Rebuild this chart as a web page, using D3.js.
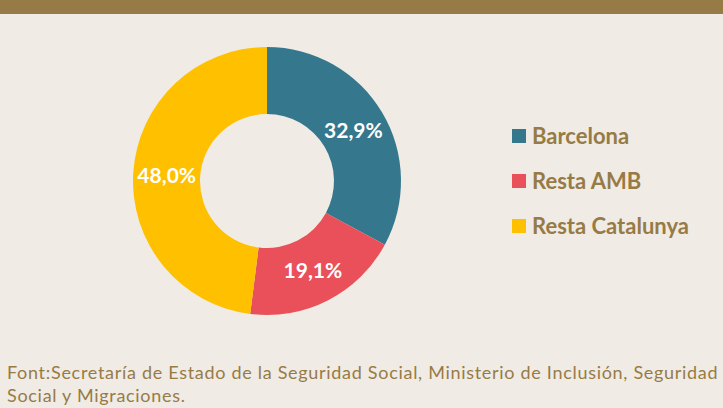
<!DOCTYPE html>
<html><head><meta charset="utf-8">
<script src="https://cdn.jsdelivr.net/npm/d3@7"></script>
<style>html,body{margin:0;padding:0;background:#F0EBE5;}svg{display:block;}</style>
</head><body>
<script>
const categories = ["Barcelona", "Resta AMB", "Resta Catalunya"];
const values = [32.9, 19.1, 48.0];
const labels = ["32,9%", "19,1%", "48,0%"];
const colors = ["#35788D", "#E9505A", "#FFC000"];
const source = ["Font:Secretaría de Estado de la Seguridad Social, Ministerio de Inclusión, Seguridad", "Social y Migraciones."];

const W = 723, H = 408;
const svg = d3.select("body").append("svg").attr("width", W).attr("height", H);
svg.append("rect").attr("width", W).attr("height", H).attr("fill", "#F0EBE5");
svg.append("rect").attr("width", W).attr("height", 14).attr("fill", "#977B46");

const data = categories.map((c, i) => ({cat: c, v: values[i], label: labels[i], color: colors[i]}));
const pie = d3.pie().value(d => d.v).sort(null);
const arc = d3.arc().innerRadius(67).outerRadius(134);
const g = svg.append("g").attr("transform", "translate(267,181)");
const arcs = pie(data);
g.selectAll("path").data(arcs).join("path").attr("d", arc).attr("fill", d => d.data.color);
g.selectAll("text").data(arcs).join("text")
  .attr("transform", d => `translate(${arc.centroid(d)})`)
  .attr("text-anchor", "middle").attr("dy", "0.38em")
  .attr("fill", "#fff").attr("font-family", "Lato, 'Open Sans', sans-serif")
  .attr("font-weight", "bold").attr("font-size", 21)
  .text(d => d.data.label);

const legend = svg.append("g").attr("transform", "translate(512,129)");
const li = legend.selectAll("g").data(data).join("g").attr("transform", (d, i) => `translate(0,${i * 45})`);
li.append("rect").attr("width", 14).attr("height", 14).attr("fill", d => d.color);
li.append("text").attr("x", 20).attr("y", 7).attr("dy", "0.36em")
  .attr("fill", "#977B46").attr("font-family", "Lato, 'Open Sans', sans-serif")
  .attr("font-weight", "bold").attr("font-size", 22).text(d => d.cat);

svg.append("g").selectAll("text").data(source).join("text")
  .attr("x", 7).attr("y", (d, i) => 379 + i * 23)
  .attr("fill", "#977B46").attr("font-family", "Lato, 'Open Sans', sans-serif")
  .attr("font-size", 18).attr("letter-spacing", 0.7).text(d => d);
</script>
</body></html>
